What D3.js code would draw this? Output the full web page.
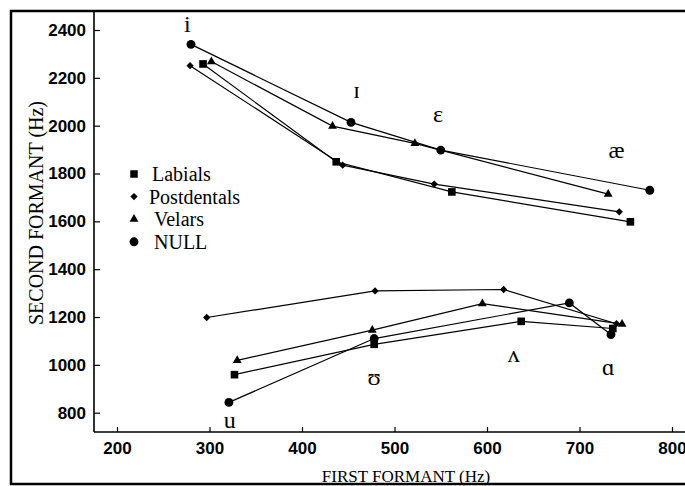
<!DOCTYPE html>
<html lang="en">
<head>
    <meta charset="UTF-8">
    <title>formant plot</title>
    <script src="https://cdn.jsdelivr.net/npm/d3@7/dist/d3.min.js"></script>
    <style>
        body { margin: 0; background: #fff; }
        .tick text { font-family: "Liberation Sans", Arial, sans-serif; font-weight: bold; font-size: 17px; }
    </style>
</head>
<body>
<svg height="486" width="685"></svg>

<script>
    // [F1, F2] per vowel, front vowels i ɪ ɛ æ and back vowels u ʊ ʌ ɑ
    var labialsFront = [[293, 2258], [437, 1849], [562, 1723], [755, 1598]];
    var labialsBack = [[327, 959], [478, 1086], [637, 1182], [736, 1152]];
    var postdentalsFront = [[279, 2251], [444, 1835], [543, 1756], [743, 1640]];
    var postdentalsBack = [[297, 1198], [479, 1309], [618, 1315], [740, 1172]];
    var velarsFront = [[302, 2268], [433, 1998], [522, 1926], [731, 1714]];
    var velarsBack = [[330, 1019], [476, 1145], [595, 1256], [746, 1170]];
    var nullFront = [[280, 2340], [453, 2014], [550, 1898], [776, 1730]];
    var nullBack = [[321, 843], [478, 1110], [689, 1259], [734, 1127]];

    var seriesNames = ["Labials", "Postdentals", "Velars", "NULL"];
    var seriesSymbols = [d3.symbolSquare, d3.symbolDiamond2, d3.symbolTriangle, d3.symbolCircle];
    var seriesData = [
        [labialsFront, labialsBack],
        [postdentalsFront, postdentalsBack],
        [velarsFront, velarsBack],
        [nullFront, nullBack]
    ];

    var vowelLabels = ["i", "ɪ", "ɛ", "æ", "u", "ʊ", "ʌ", "ɑ"];
    var vowelLabelF1 = [276, 459, 547, 740, 322, 478, 629, 731];
    var vowelLabelF2 = [2428, 2152, 2051, 1898, 772, 952, 1047, 991];

    var xTicks = [200, 300, 400, 500, 600, 700, 800];
    var yTicks = [800, 1000, 1200, 1400, 1600, 1800, 2000, 2200, 2400];

    var svg = d3.select('svg');

    //比例尺
    var xScale = d3.scaleLinear().domain([200, 800]).range([117, 672]);
    var yScale = d3.scaleLinear().domain([800, 2400]).range([412.7, 30]);

    var axisY = 432, axisX = 94;

    //坐标轴
    var xAxis = d3.axisBottom(xScale).tickValues(xTicks).tickFormat(d3.format('d'))
        .tickSizeInner(-5).tickSizeOuter(0).tickPadding(10);
    var yAxis = d3.axisLeft(yScale).tickValues(yTicks).tickFormat(d3.format('d'))
        .tickSizeInner(-6).tickSizeOuter(0).tickPadding(8);

    var gx = svg.append('g').attr('transform', 'translate(0,' + axisY + ')').call(xAxis);
    gx.select('.domain').remove();
    gx.selectAll('.tick line').attr('stroke', '#000').attr('stroke-width', 1.2);

    var gy = svg.append('g').attr('transform', 'translate(' + axisX + ',0)').call(yAxis);
    gy.select('.domain').remove();
    gy.selectAll('.tick line').attr('stroke', '#000').attr('stroke-width', 1.2);

    svg.append('line').attr('x1', axisX).attr('x2', 685).attr('y1', axisY).attr('y2', axisY)
        .attr('stroke', '#000').attr('stroke-width', 1.6);
    svg.append('line').attr('x1', axisX).attr('x2', axisX).attr('y1', 11).attr('y2', axisY)
        .attr('stroke', '#000').attr('stroke-width', 1.6);

    //折线
    var linePath = d3.line().x(function (d) {
        return xScale(d[0]);
    }).y(function (d) {
        return yScale(d[1]);
    });

    var symbolSizes = [58, 34, 34, 62];

    seriesData.forEach(function (groups) {
        groups.forEach(function (pts) {
            svg.append('path').attr('d', linePath(pts)).attr('fill', 'none')
                .attr('stroke', '#000').attr('stroke-width', 1.2);
        });
    });
    seriesData.forEach(function (groups, si) {
        var sym = d3.symbol().type(seriesSymbols[si]).size(symbolSizes[si]);
        groups.forEach(function (pts) {
            svg.selectAll(null).data(pts).enter().append('path')
                .attr('d', sym)
                .attr('transform', function (d) {
                    return 'translate(' + xScale(d[0]) + ',' + yScale(d[1]) + ')';
                })
                .attr('fill', '#000');
        });
    });

    //元音标注
    svg.selectAll(null).data(vowelLabels).enter().append('text')
        .attr('x', function (d, i) { return xScale(vowelLabelF1[i]); })
        .attr('y', function (d, i) { return yScale(vowelLabelF2[i]); })
        .attr('dy', '0.35em')
        .attr('text-anchor', 'middle')
        .style('font-family', '"Liberation Serif", "DejaVu Serif", serif')
        .style('font-size', '24px')
        .text(function (d) { return d; });

    //图例
    var legend = svg.append('g').attr('transform', 'translate(134,174)');
    seriesNames.forEach(function (name, i) {
        var g = legend.append('g').attr('transform', 'translate(0,' + (i * 22.6) + ')');
        g.append('path').attr('d', d3.symbol().type(seriesSymbols[i]).size([56, 34, 34, 62][i])).attr('fill', '#000');
        g.append('text').attr('x', [18, 15, 20, 20][i]).attr('dy', '0.35em')
            .style('font-family', '"Liberation Serif", serif').style('font-size', '20px')
            .text(name);
    });

    //轴标题
    svg.append('text').attr('transform', 'translate(36,213) rotate(-90)')
        .attr('text-anchor', 'middle').attr('dy', '0.35em')
        .style('font-family', '"Liberation Serif", serif').style('font-size', '20px')
        .text('SECOND FORMANT (Hz)');
    svg.append('text').attr('x', 406).attr('y', 482)
        .attr('text-anchor', 'middle')
        .style('font-family', '"Liberation Serif", serif').style('font-size', '17px')
        .text('FIRST FORMANT (Hz)');

    //外框
    svg.append('rect').attr('x', 11).attr('y', 11).attr('width', 690).attr('height', 473)
        .attr('fill', 'none').attr('stroke', '#000').attr('stroke-width', 2.5);
</script>
</body>
</html>
